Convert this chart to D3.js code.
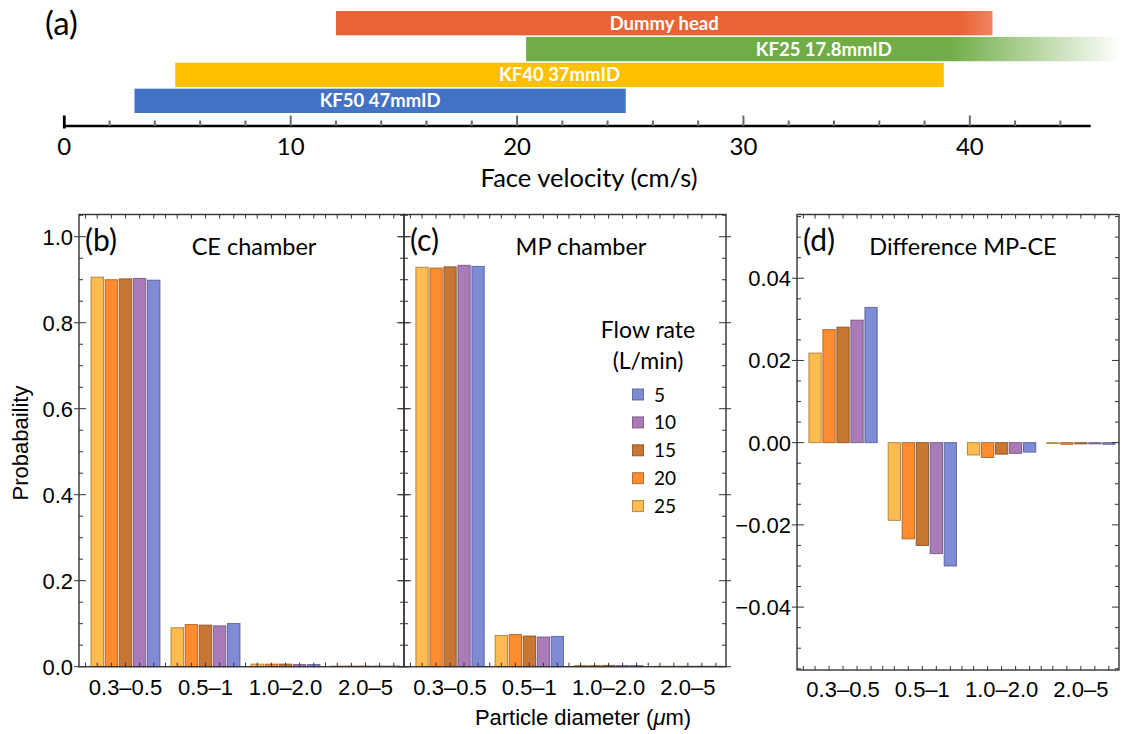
<!DOCTYPE html>
<html><head><meta charset="utf-8">
<script src="https://cdn.jsdelivr.net/npm/d3@7"></script>
<style>body{margin:0;background:#fff}svg{display:block}</style></head>
<body><svg id="chart" width="1122" height="734"></svg>
<script>
// ---------- data: panel (a) ----------
const velocityBands = ["Dummy head", "KF25 17.8mmID", "KF40 37mmID", "KF50 47mmID"];
const velocityStart = [12.0, 20.4, 4.9, 3.1];
const velocityEnd   = [41.0, 46.7, 38.85, 24.8];
const velocityMajorTicks = [0, 10, 20, 30, 40];
const velocityMinorTicks = [2, 4, 6, 8, 12, 14, 16, 18, 22, 24, 26, 28, 32, 34, 36, 38, 42, 44];

// ---------- data: panels (b)-(d) ----------
const sizeBins  = ["0.3–0.5", "0.5–1", "1.0–2.0", "2.0–5"];
const flowRates = [25, 20, 15, 10, 5];
// CE chamber, one array per flow rate (values per size bin)
const ce25 = [0.906, 0.0905, 0.006, 0.0015];
const ce20 = [0.900, 0.0980, 0.006, 0.0015];
const ce15 = [0.902, 0.0967, 0.006, 0.0015];
const ce10 = [0.903, 0.0950, 0.005, 0.0015];
const ce5  = [0.899, 0.1005, 0.005, 0.0015];
// MP chamber
const mp25 = [0.929, 0.0727, 0.003, 0.001];
const mp20 = [0.927, 0.0750, 0.0025, 0.001];
const mp15 = [0.930, 0.0713, 0.003, 0.001];
const mp10 = [0.9335, 0.0690, 0.0025, 0.001];
const mp5  = [0.931, 0.0704, 0.0025, 0.001];
// Difference MP-CE
const diff25 = [0.0218, -0.0189, -0.0030, -0.0002];
const diff20 = [0.0275, -0.0234, -0.0036, -0.0004];
const diff15 = [0.0281, -0.0250, -0.0028, -0.0003];
const diff10 = [0.0298, -0.0270, -0.0026, -0.0003];
const diff5  = [0.0329, -0.0300, -0.0023, -0.0004];
const probTicks = [0, 0.2, 0.4, 0.6, 0.8, 1.0];
const diffTicks = [-0.04, -0.02, 0, 0.02, 0.04];

const ceSeries   = [ce25, ce20, ce15, ce10, ce5];
const mpSeries   = [mp25, mp20, mp15, mp10, mp5];
const diffSeries = [diff25, diff20, diff15, diff10, diff5];

// ---------- styles ----------
const bandColors = ["#EA6334", "#70AD47", "#FFC000", "#4472C4"];
const flowColors = ["#FDBB50", "#FF8C2E", "#C87633", "#A97BB9", "#7E8CD6"];
const calibri = "Lato, 'Open Sans', sans-serif";
const arial = "'Liberation Sans', Arial, sans-serif";

const svg = d3.select("#chart");
const defs = svg.append("defs");

// ================= Panel (a) =================
const xV = d3.scaleLinear().domain([0, 45.34]).range([64.3, 1090.7]);
const yRow = d3.scaleBand().domain(velocityBands).range([11, 113]).paddingInner(0.06);

// gradients
const g0 = defs.append("linearGradient").attr("id", "gDummy").attr("gradientUnits", "userSpaceOnUse")
  .attr("x1", xV(velocityStart[0])).attr("x2", xV(velocityEnd[0])).attr("y1", 0).attr("y2", 0);
g0.append("stop").attr("offset", 0).attr("stop-color", bandColors[0]);
g0.append("stop").attr("offset", 0.95).attr("stop-color", bandColors[0]);
g0.append("stop").attr("offset", 1).attr("stop-color", "#F08462");
const g1 = defs.append("linearGradient").attr("id", "gKF25").attr("gradientUnits", "userSpaceOnUse")
  .attr("x1", xV(velocityStart[1])).attr("x2", xV(velocityEnd[1])).attr("y1", 0).attr("y2", 0);
g1.append("stop").attr("offset", 0).attr("stop-color", bandColors[1]);
g1.append("stop").attr("offset", 0.71).attr("stop-color", bandColors[1]);
g1.append("stop").attr("offset", 0.83).attr("stop-color", bandColors[1]).attr("stop-opacity", 0.6);
g1.append("stop").attr("offset", 1).attr("stop-color", bandColors[1]).attr("stop-opacity", 0.0);
const fills = ["url(#gDummy)", "url(#gKF25)", bandColors[2], bandColors[3]];

const pa = svg.append("g");
velocityBands.forEach((name, i) => {
  pa.append("rect")
    .attr("x", xV(velocityStart[i])).attr("y", yRow(name))
    .attr("width", xV(velocityEnd[i]) - xV(velocityStart[i]))
    .attr("height", yRow.bandwidth())
    .attr("fill", fills[i]);
  pa.append("text")
    .attr("x", (xV(velocityStart[i]) + xV(velocityEnd[i])) / 2)
    .attr("y", yRow(name) + yRow.bandwidth() / 2 + 6.5)
    .attr("text-anchor", "middle").attr("fill", "#fff")
    .attr("font-family", calibri).attr("font-weight", 700).attr("font-size", 18.5)
    .text(name);
});
// axis
pa.append("line").attr("x1", xV(0)).attr("x2", xV(45.34)).attr("y1", 126).attr("y2", 126)
  .attr("stroke", "#000").attr("stroke-width", 2.6);
velocityMinorTicks.forEach(t => pa.append("line").attr("x1", xV(t)).attr("x2", xV(t))
  .attr("y1", 126).attr("y2", 120.5).attr("stroke", "#6b6b6b").attr("stroke-width", 2));
velocityMajorTicks.forEach(t => {
  pa.append("line").attr("x1", xV(t)).attr("x2", xV(t))
    .attr("y1", t === 0 ? 128.5 : 126).attr("y2", 115.5)
    .attr("stroke", t === 0 ? "#000" : "#6b6b6b").attr("stroke-width", t === 0 ? 2.8 : 2);
  pa.append("text").attr("x", xV(t)).attr("y", 155).attr("text-anchor", "middle")
    .attr("font-family", calibri).attr("font-size", 24).attr("fill", "#000").text(t);
});
pa.append("text").attr("x", 589).attr("y", 187).attr("text-anchor", "middle")
  .attr("font-family", calibri).attr("font-size", 25.5).text("Face velocity (cm/s)");
pa.append("text").attr("x", 45).attr("y", 35).attr("font-family", calibri).attr("font-size", 33).text("(a)");

// ================= Bar panels =================
function barPanel(opt) {
  const g = svg.append("g");
  const x = d3.scaleBand().domain(sizeBins).range([opt.x0, opt.x1])
    .paddingInner(0.138).paddingOuter(0.1).align(0.75);
  const xi = d3.scaleBand().domain(flowRates).range([0, x.bandwidth()]).paddingInner(0.12);
  const y = opt.y;
  const [yb, yt] = y.range();

  // bars
  opt.series.forEach((arr, si) => {
    const col = flowColors[si];
    g.selectAll(null).data(arr).enter().append("rect")
      .attr("x", (d, k) => x(sizeBins[k]) + xi(flowRates[si]))
      .attr("width", xi.bandwidth())
      .attr("y", d => Math.min(y(d), y(0)))
      .attr("height", d => Math.abs(y(d) - y(0)))
      .attr("fill", col)
      .attr("stroke", d3.color(col).darker(1.3))
      .attr("stroke-opacity", 0.8)
      .attr("stroke-width", 1);
  });

  // frame ticks (top/bottom): at bar centers & group gaps
  const xt = [];
  sizeBins.forEach((b, k) => {
    flowRates.forEach(f => xt.push(x(b) + xi(f) + xi.bandwidth() / 2));
    if (k < sizeBins.length - 1) xt.push(x(b) + x.bandwidth() + (x.step() - x.bandwidth()) / 2);
  });
  xt.push(x(sizeBins[0]) - (x.step() - x.bandwidth()) / 2);
  xt.forEach(t => {
    g.append("line").attr("x1", t).attr("x2", t).attr("y1", yb).attr("y2", yb - 4)
      .attr("stroke", "#333").attr("stroke-width", 1);
    g.append("line").attr("x1", t).attr("x2", t).attr("y1", yt).attr("y2", yt + 4)
      .attr("stroke", "#333").attr("stroke-width", 1);
  });

  // y ticks
  const [d0, d1] = y.domain();
  const minorStep = opt.minorStep;
  for (let v = Math.ceil(d0 / minorStep) * minorStep; v <= d1 + 1e-9; v += minorStep) {
    const isMajor = opt.majorTicks.some(m => Math.abs(m - v) < 1e-9);
    const yy = y(v);
    g.append("line").attr("x1", opt.x0 - (isMajor && opt.leftOut ? 5 : 0)).attr("x2", opt.x0 + (isMajor ? 7 : 4))
      .attr("y1", yy).attr("y2", yy).attr("stroke", "#333").attr("stroke-width", 1);
    g.append("line").attr("x1", opt.x1 + (isMajor && opt.rightOut ? 5 : 0)).attr("x2", opt.x1 - (isMajor ? 7 : 4))
      .attr("y1", yy).attr("y2", yy).attr("stroke", "#333").attr("stroke-width", 1);
  }
  if (opt.labels) {
    opt.majorTicks.forEach(v => g.append("text")
      .attr("x", opt.x0 - 6).attr("y", y(v)).attr("dy", "0.36em").attr("text-anchor", "end")
      .attr("font-family", arial).attr("font-size", 22).text(opt.fmt(v)));
  }
  // frame
  g.append("rect").attr("x", opt.x0).attr("y", yt).attr("width", opt.x1 - opt.x0).attr("height", yb - yt)
    .attr("fill", "none").attr("stroke", "#333").attr("stroke-width", 1.4);
  // category labels
  sizeBins.forEach(b => g.append("text").attr("x", x(b) + x.bandwidth() / 2).attr("y", opt.catY)
    .attr("text-anchor", "middle").attr("font-family", arial).attr("font-size", 22).text(b));
  // titles
  g.append("text").attr("x", opt.x0 + 6).attr("y", 251).attr("font-family", calibri).attr("font-size", 30).text(opt.tag);
  g.append("text").attr("x", opt.titleX).attr("y", 255).attr("text-anchor", "middle")
    .attr("font-family", calibri).attr("font-size", 23.5).text(opt.title);
  return g;
}

const yP = d3.scaleLinear().domain([0, 1.0517]).range([666.7, 214.5]);
const yD = d3.scaleLinear().domain([-0.0553, 0.0555]).range([670, 214.5]);

barPanel({ x0: 79, x1: 404, y: yP, series: ceSeries, minorStep: 0.05, majorTicks: probTicks,
  labels: true, leftOut: true, rightOut: true, fmt: d3.format(".1f"), catY: 695,
  tag: "(b)", title: "CE chamber", titleX: 254 });
barPanel({ x0: 404, x1: 726, y: yP, series: mpSeries, minorStep: 0.05, majorTicks: probTicks,
  labels: false, leftOut: true, rightOut: true, fmt: d3.format(".1f"), catY: 695,
  tag: "(c)", title: "MP chamber", titleX: 581 });
barPanel({ x0: 797, x1: 1119, y: yD, series: diffSeries, minorStep: 0.005, majorTicks: diffTicks,
  labels: true, leftOut: true, rightOut: false, fmt: d3.format(".2f"), catY: 697,
  tag: "(d)", title: "Difference MP-CE", titleX: 963 });

// legend
const lg = svg.append("g");
lg.append("text").attr("x", 648).attr("y", 338).attr("text-anchor", "middle")
  .attr("font-family", calibri).attr("font-size", 23).text("Flow rate");
lg.append("text").attr("x", 648).attr("y", 369).attr("text-anchor", "middle")
  .attr("font-family", calibri).attr("font-size", 23).text("(L/min)");
const legOrder = flowRates.map((f, i) => i).reverse();
legOrder.forEach((si, j) => {
  const yy = 389 + j * 27.9;
  const col = flowColors[si];
  lg.append("rect").attr("x", 632.5).attr("y", yy).attr("width", 11).attr("height", 11)
    .attr("fill", col).attr("stroke", d3.color(col).darker(1.3)).attr("stroke-opacity", 0.8);
  lg.append("text").attr("x", 654).attr("y", yy + 12.5).attr("font-family", calibri)
    .attr("font-size", 19).text(flowRates[si]);
});

// axis titles
svg.append("text").attr("x", 583).attr("y", 725).attr("text-anchor", "middle")
  .attr("font-family", arial).attr("font-size", 22)
  .html("Particle diameter (<tspan font-style='italic'>μ</tspan>m)");
svg.append("text").attr("transform", "translate(28,443) rotate(-90)").attr("text-anchor", "middle")
  .attr("font-family", arial).attr("font-size", 22).text("Probabaility");
</script></body></html>
